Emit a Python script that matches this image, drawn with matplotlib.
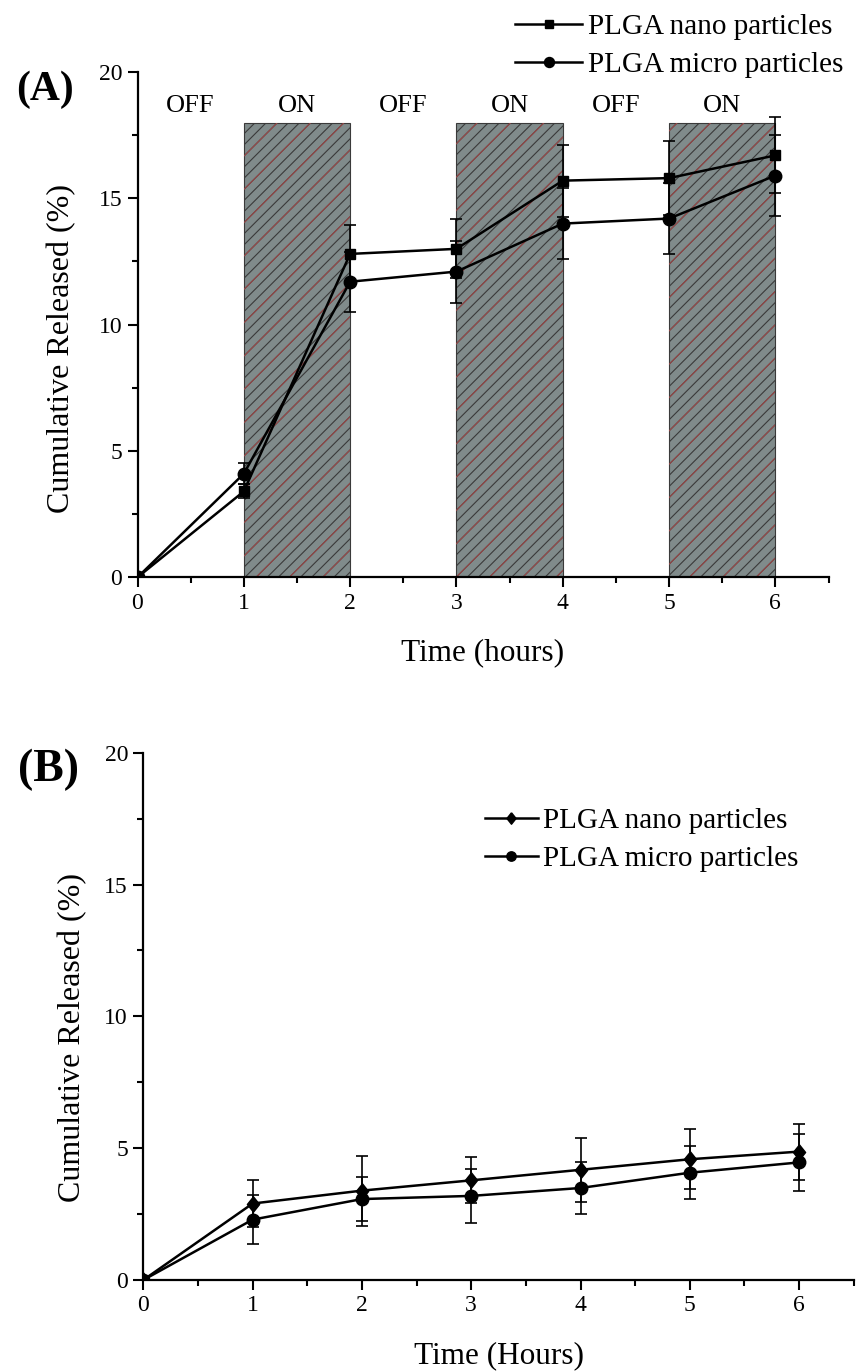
import matplotlib
matplotlib.use("Agg")
import matplotlib.pyplot as plt
from matplotlib.ticker import MultipleLocator
from matplotlib.patches import Rectangle

plt.rcParams['font.family'] = ['Liberation Serif', 'DejaVu Serif']
plt.rcParams['hatch.linewidth'] = 0.8

# ---------------- data ----------------
time_a = [0, 1, 2, 3, 4, 5, 6]
nano_a = [0, 3.4, 12.8, 13.0, 15.7, 15.8, 16.7]
nano_a_err = [0, 0.28, 1.15, 1.17, 1.42, 1.45, 1.5]
micro_a = [0, 4.1, 11.7, 12.1, 14.0, 14.2, 15.9]
micro_a_err = [0, 0.42, 1.19, 1.23, 1.39, 1.41, 1.6]

on_starts = [1, 3, 5]
on_ends = [2, 4, 6]
on_top = 18
phase_labels = ["OFF", "ON", "OFF", "ON", "OFF", "ON"]
phase_centers = [0.5, 1.5, 2.5, 3.5, 4.5, 5.5]

time_b = [0, 1, 2, 3, 4, 5, 6]
nano_b = [0, 2.9, 3.39, 3.78, 4.18, 4.58, 4.87]
nano_b_err = [0, 0.88, 1.33, 0.87, 1.21, 1.13, 1.06]
micro_b = [0, 2.29, 3.07, 3.19, 3.49, 4.07, 4.46]
micro_b_err = [0, 0.92, 0.82, 1.02, 0.97, 1.0, 1.08]

series_names = ["PLGA nano particles", "PLGA micro particles"]

W, H = 857, 1372
fig = plt.figure(figsize=(W / 100, H / 100), dpi=100)
fig.patch.set_facecolor('white')

diamond = [(0, 1), (0.8, 0), (0, -1), (-0.8, 0), (0, 1)]


def style_axes(ax, ylabel, xlabel, ylab_x, ylab_y, xlab_y, tick_fs):
    ax.set_xlim(0, 6.5)
    ax.set_ylim(0, 20)
    for s in ['top', 'right']:
        ax.spines[s].set_visible(False)
    for s in ['left', 'bottom']:
        ax.spines[s].set_linewidth(1.6)
    ax.xaxis.set_major_locator(MultipleLocator(1))
    ax.xaxis.set_minor_locator(MultipleLocator(0.5))
    ax.yaxis.set_major_locator(MultipleLocator(5))
    ax.yaxis.set_minor_locator(MultipleLocator(2.5))
    ax.tick_params(which='major', direction='out', length=7, width=1.5,
                   labelsize=tick_fs, pad=4)
    ax.tick_params(which='minor', direction='out', length=4, width=1.5)
    ax.set_ylabel(ylabel, fontsize=23, va='center')
    ax.yaxis.set_label_coords(ylab_x, ylab_y)
    ax.set_xlabel(xlabel, fontsize=22.5, va='center')
    ax.xaxis.set_label_coords(0.5, xlab_y)


# ---------------- Panel A ----------------
axA = fig.add_axes([137.5 / W, (H - 577.3) / H, 691 / W, 505.3 / H])
axA.set_facecolor('none')
for x0, x1 in zip(on_starts, on_ends):
    axA.add_patch(Rectangle((x0, 0), x1 - x0, on_top, facecolor='#808b8b',
                            edgecolor='#3a3a3a', hatch='///', linewidth=0.8,
                            zorder=1))
    axA.add_patch(Rectangle((x0, 0), x1 - x0, on_top, facecolor='none',
                            edgecolor='#9a4848', hatch='/', linewidth=0,
                            zorder=1.1))
for xc, lab in zip(phase_centers, phase_labels):
    axA.text(xc, 18.65, lab, ha='center', va='center', fontsize=19)

axA.errorbar(time_a, nano_a, yerr=nano_a_err, fmt='none', ecolor='black',
             elinewidth=1.2, capsize=4.5, capthick=1.2, zorder=3)
axA.errorbar(time_a, micro_a, yerr=micro_a_err, fmt='none', ecolor='black',
             elinewidth=1.2, capsize=4.5, capthick=1.2, zorder=3)
axA.plot(time_a, nano_a, color='black', lw=1.8, marker='s', ms=7.5,
         label=series_names[0], zorder=4)
axA.plot(time_a, micro_a, color='black', lw=1.8, marker='o', ms=9,
         label=series_names[1], zorder=4)
style_axes(axA, "Cumulative Released (%)", "Time (hours)",
           -0.11, 0.452, -0.15, 17)
axA.legend(loc='center left', bbox_to_anchor=(515 / W, 1 - 46 / H),
           bbox_transform=fig.transFigure, frameon=False, fontsize=21,
           handlelength=2.3, handletextpad=0.2, labelspacing=0.4,
           borderpad=0, borderaxespad=0, markerscale=0.8)
fig.text(45 / W, 1 - 90 / H, "(A)", fontsize=30, fontweight='bold',
         ha='center', va='center')

# ---------------- Panel B ----------------
axB = fig.add_axes([143.3 / W, (H - 1280) / H, 710.5 / W, 527.3 / H])
axB.set_facecolor('none')
axB.errorbar(time_b, nano_b, yerr=nano_b_err, fmt='none', ecolor='black',
             elinewidth=1.2, capsize=4.5, capthick=1.2, zorder=3)
axB.errorbar(time_b, micro_b, yerr=micro_b_err, fmt='none', ecolor='black',
             elinewidth=1.2, capsize=4.5, capthick=1.2, zorder=3)
axB.plot(time_b, nano_b, color='black', lw=1.8, marker=diamond, ms=11,
         label=series_names[0], zorder=4)
axB.plot(time_b, micro_b, color='black', lw=1.8, marker='o', ms=9,
         label=series_names[1], zorder=4)
style_axes(axB, "Cumulative Released (%)", "Time (Hours)",
           -0.1, 0.459, -0.144, 17)
axB.legend(loc='center left', bbox_to_anchor=(485 / W, 1 - 840 / H),
           bbox_transform=fig.transFigure, frameon=False, fontsize=21,
           handlelength=1.8, handletextpad=0.2, labelspacing=0.4,
           borderpad=0, borderaxespad=0, markerscale=0.75)
fig.text(48 / W, 1 - 770 / H, "(B)", fontsize=33, fontweight='bold',
         ha='center', va='center')

fig.savefig("out.png", dpi=100, facecolor='white')
